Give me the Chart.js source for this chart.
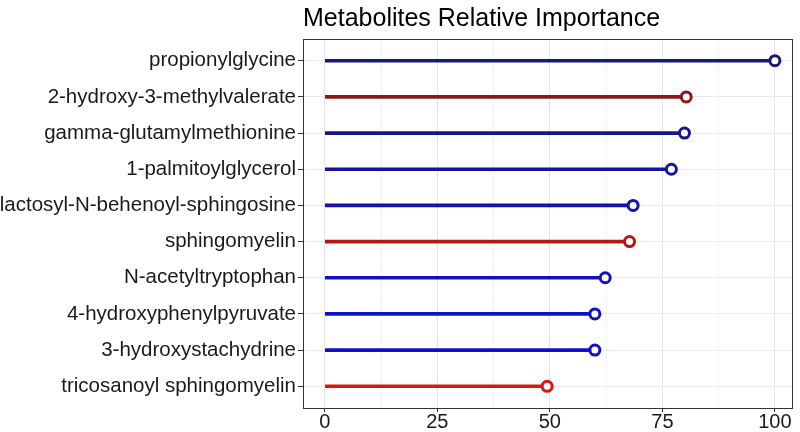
<!DOCTYPE html>
<html>
<head>
<meta charset="utf-8">
<script src="https://cdn.jsdelivr.net/npm/chart.js@4.4.1/dist/chart.umd.min.js"></script>
<style>
  html, body { margin: 0; padding: 0; background: #fff; }
  #wrap { width: 800px; height: 432px; }
</style>
</head>
<body>
<div id="wrap"><canvas id="myChart" width="800" height="432"></canvas></div>
<script>
// metabolites, top to bottom
let metabolites = [
    'propionylglycine',
    '2-hydroxy-3-methylvalerate',
    'gamma-glutamylmethionine',
    '1-palmitoylglycerol',
    'lactosyl-N-behenoyl-sphingosine',
    'sphingomyelin',
    'N-acetyltryptophan',
    '4-hydroxyphenylpyruvate',
    '3-hydroxystachydrine',
    'tricosanoyl sphingomyelin'
]
let importance = [100, 80.3, 79.9, 77.0, 68.5, 67.7, 62.3, 60.0, 60.0, 49.4]
let xTicks = [0, 25, 50, 75, 100]

let rowColors = ['#17177e', '#8a1818', '#16168c', '#15159c', '#1414aa', '#b81616', '#1212ba', '#1010c6', '#1010cc', '#dc1414']

let rows = metabolites.map((m, i) => i)

// grey frame around the panel
const panelBorder = {
    id: 'panelBorder',
    afterDraw(chart) {
        const a = chart.chartArea
        const c = chart.ctx
        c.save()
        c.strokeStyle = '#333333'
        c.lineWidth = 1
        c.strokeRect(Math.round(a.left) + 0.5, Math.round(a.top) + 0.5, Math.round(a.right - a.left), Math.round(a.bottom - a.top))
        c.restore()
    }
}

var ctx = document.getElementById('myChart').getContext('2d');
var chart = new Chart(ctx, {
    type: 'bar',
    data: {
        datasets: [
            {
                type: 'line',
                showLine: false,
                data: importance.map((v, i) => ({x: v, y: rows[i]})),
                pointRadius: 5,
                pointHoverRadius: 5,
                pointBorderWidth: 3,
                pointBackgroundColor: '#ffffff',
                pointBorderColor: rowColors,
                order: 0
            },
            {
                data: importance.map((v, i) => ({x: v, y: rows[i]})),
                backgroundColor: rowColors,
                barThickness: 3,
                order: 1
            }
        ]
    },
    options: {
        indexAxis: 'y',
        responsive: false,
        animation: false,
        layout: {padding: {top: 4, right: 5, bottom: 0, left: 0}},
        plugins: {
            legend: {display: false},
            tooltip: {enabled: false},
            title: {
                display: true,
                text: 'Metabolites Relative Importance',
                align: 'start',
                fullSize: false,
                color: '#000000',
                font: {family: 'Liberation Sans', size: 25, weight: 'normal', lineHeight: 1.2},
                padding: {top: 0, bottom: 5}
            }
        },
        scales: {
            x: {
                type: 'linear',
                min: -4.85,
                max: 103.8,
                afterBuildTicks: s => { s.ticks = [0, 12.5, 25, 37.5, 50, 62.5, 75, 87.5, 100].map(v => ({value: v})) },
                ticks: {
                    autoSkip: false,
                    maxRotation: 0,
                    color: '#1a1a1a',
                    font: {family: 'Liberation Sans', size: 20, lineHeight: 1.0},
                    padding: 0,
                    callback: v => xTicks.includes(v) ? String(v) : ''
                },
                grid: {
                    color: c => xTicks.includes(c.tick.value) ? '#e6e6e6' : '#f3f3f3',
                    tickColor: c => xTicks.includes(c.tick.value) ? '#333333' : 'rgba(0,0,0,0)',
                    tickLength: 4,
                    lineWidth: 1
                },
                border: {display: false}
            },
            y: {
                type: 'linear',
                reverse: true,
                offset: false,
                min: -0.6,
                max: 9.6,
                afterFit: s => { s.width = 303 },
                afterBuildTicks: s => { s.ticks = rows.map(v => ({value: v})) },
                ticks: {
                    autoSkip: false,
                    color: '#1a1a1a',
                    font: {family: 'Liberation Sans', size: 20.5},
                    padding: 2,
                    callback: v => metabolites[v]
                },
                grid: {
                    offset: false,
                    color: '#ebebeb',
                    tickColor: '#333333',
                    tickLength: 5,
                    lineWidth: 1
                },
                border: {display: false}
            }
        }
    },
    plugins: [panelBorder]
});
</script>
</body>
</html>
